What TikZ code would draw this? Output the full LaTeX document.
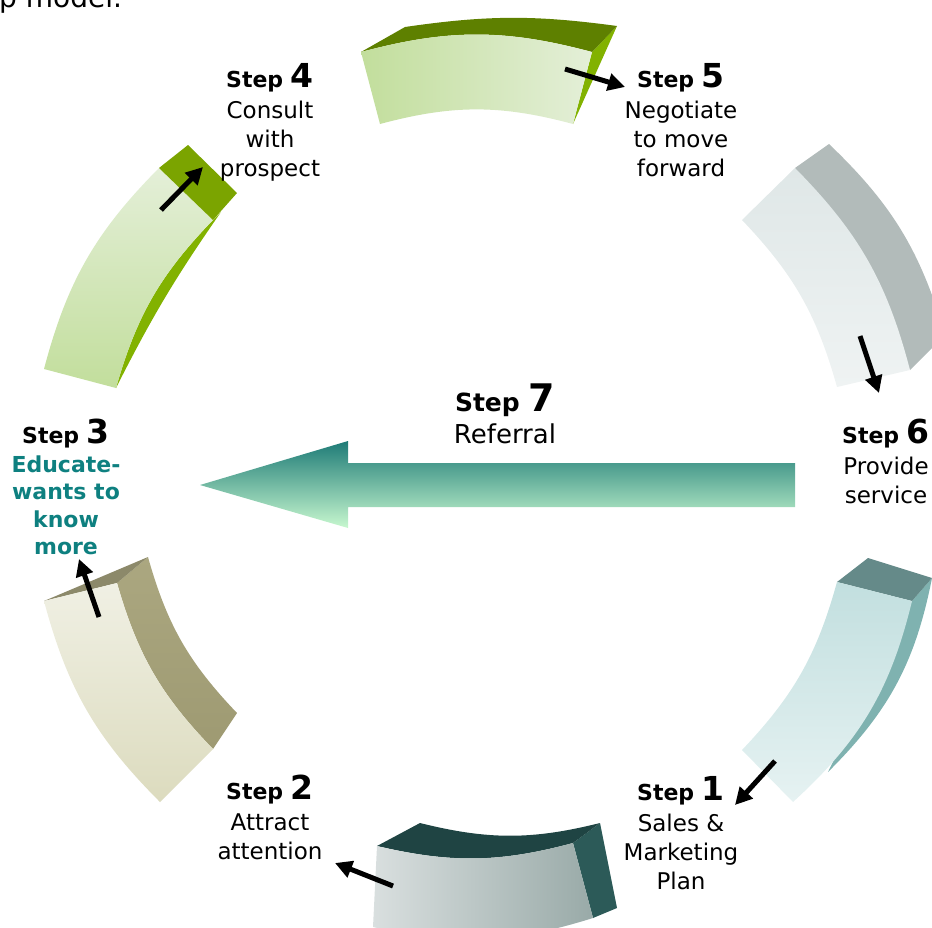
\documentclass[tikz,border=0pt]{standalone}
\usepackage{fontspec}
\setmainfont{DejaVu Sans}
\usetikzlibrary{arrows.meta}

% block colours
\definecolor{grnfrontA}{HTML}{C2DE9C}
\definecolor{grnfrontB}{HTML}{E4EFD8}
\definecolor{grntop}{HTML}{5E8000}
\definecolor{grnside}{HTML}{82B200}
\definecolor{grnsquare}{HTML}{7BA400}
\definecolor{khfrontA}{HTML}{F0F0E4}
\definecolor{khfrontB}{HTML}{DCDBBE}
\definecolor{khtop}{HTML}{8C896A}
\definecolor{khsideA}{HTML}{ABA780}
\definecolor{khsideB}{HTML}{9E9A72}
\definecolor{dkfrontA}{HTML}{D9DFDF}
\definecolor{dkfrontB}{HTML}{99AAA8}
\definecolor{dktop}{HTML}{1F4443}
\definecolor{dkside}{HTML}{2C5A58}
\definecolor{tlfrontA}{HTML}{C2DFDF}
\definecolor{tlfrontB}{HTML}{E6F2F2}
\definecolor{tltop}{HTML}{658A89}
\definecolor{tlside}{HTML}{7FB2B0}
\definecolor{gyfrontA}{HTML}{DFE7E7}
\definecolor{gyfrontB}{HTML}{EFF3F3}
\definecolor{gyside}{HTML}{B2BBBA}
\definecolor{refA}{HTML}{1E7B77}
\definecolor{refB}{HTML}{C8F8CF}
\definecolor{eduteal}{HTML}{0E8080}

\newcommand{\stepnum}[1]{{\fontsize{22}{28}\selectfont\bfseries Step }{\fontsize{33}{28}\selectfont\bfseries #1}}

\begin{document}
\begin{tikzpicture}[x=1pt, y=-1pt,
	steplabel/.style={align=center,
		anchor=north,
		inner sep=0pt,
		font=\fontsize{23}{29}\selectfont},
	segarrow/.style={line width=5pt,
		-{Triangle[length=17pt,width=17pt]}}
	]

\useasboundingbox (0,0) rectangle (932,927);

% heading line above, cut by the page
\node[anchor=base west, inner sep=0pt, font=\fontsize{28}{34}\selectfont] (head) at (-1,7) {p model.};

% every bend bows its edge away from the middle of the ring

% block 5 (top)
\fill[grnside] (617,26) -- (592,52) -- (573,124) -- cycle;
\fill[grntop] (361,52) -- (405,27) to[bend left=8] (617,26) -- (592,52) to[bend right=15] (361,52) -- cycle;
\shade[left color=grnfrontA, right color=grnfrontB] (361,52) to[bend left=15] (592,52) -- (573,124) to[bend right=15] (380,124) -- cycle;

% block 4 (upper left)
\fill[grnside] (213,220) -- (221,212) to[bend right=4] (116,388) to[bend left=14] (213,220) -- cycle;
\shade[top color=grnfrontB, bottom color=grnfrontA] (159,168) -- (213,220) to[bend right=14] (116,388) -- (44,369) to[bend left=15] (159,168) -- cycle;
\fill[grnsquare] (159,168) -- (188,145) -- (237,193) -- (213,220) -- cycle;

% block 3 (lower left)
\shade[top color=khsideA, bottom color=khsideB] (117,583) -- (148,557) to[bend right=14] (237,713) -- (213,749) to[bend left=14] (117,583) -- cycle;
\fill[khtop] (44,601) -- (148,557) -- (117,583) -- cycle;
\shade[top color=khfrontA, bottom color=khfrontB] (44,601) -- (117,583) to[bend right=14] (213,749) -- (160,802) to[bend left=15] (44,601) -- cycle;

% block 2 (bottom)
\fill[dkside] (573,843) -- (600,823) -- (617,908) -- (593,918) -- cycle;
\fill[dktop] (377,846) -- (420,823) to[bend right=14] (600,823) -- (573,843) to[bend left=14] (377,846) -- cycle;
\shade[left color=dkfrontA, right color=dkfrontB] (377,846) to[bend right=14] (573,843) -- (593,918) to[bend left=15] (373,927) -- cycle;

% block 1 (lower right)
\fill[tlside] (912,601) -- (932,578) to[bend left=17] (828,772) -- cycle;
\fill[tltop] (837,582) -- (868,558) -- (932,578) -- (912,601) -- cycle;
\shade[top color=tlfrontA, bottom color=tlfrontB] (837,582) -- (912,601) to[bend left=17] (793,802) -- (742,750) to[bend right=14] (837,582) -- cycle;

% block 6 (upper right)
\fill[gyside] (795,168) -- (829,144) to[bend left=15] (945,335) -- (910,370) -- cycle;
\shade[top color=gyfrontA, bottom color=gyfrontB] (742,220) -- (795,168) to[bend left=15] (910,370) -- (837,387) to[bend right=14] (742,220) -- cycle;

% referral arrow
\shade[top color=refA, bottom color=refB] (200,485) -- (348,441) -- (348,463) -- (795,463) -- (795,507) -- (348,507) -- (348,528) -- cycle;

% step labels
\node[steplabel] (s1) at (681,776) {\stepnum{1}\\[2pt]Sales \&\\Marketing\\Plan};
\node[steplabel] (s2) at (270,775) {\stepnum{2}\\[2pt]Attract\\attention};
\node[steplabel, font=\fontsize{22}{27.5}\selectfont\bfseries, text=eduteal] (s3) at (66,419) {\textcolor{black}{\stepnum{3}}\\[1pt]Educate-\\wants to\\know\\more};
\node[steplabel] (s4) at (270,63) {\stepnum{4}\\[2pt]Consult\\with\\prospect};
\node[steplabel] (s5) at (681,63) {\stepnum{5}\\[2pt]Negotiate\\to move\\forward};
\node[steplabel] (s6) at (886,419) {\stepnum{6}\\[2pt]Provide\\service};
\node[steplabel, font=\fontsize{26}{31}\selectfont] (s7) at (505,384) {{\fontsize{25}{31}\selectfont\bfseries Step }{\fontsize{38}{31}\selectfont\bfseries 7}\\[1pt]Referral};

% arrow ends
\coordinate (a1s) at (775,761);
\coordinate (a1e) at (735,805);
\coordinate (a2s) at (393,886);
\coordinate (a2e) at (335,863);
\coordinate (a3s) at (99,617);
\coordinate (a3e) at (79,559);
\coordinate (a4s) at (161,210);
\coordinate (a4e) at (203,167);
\coordinate (a5s) at (565,69);
\coordinate (a5e) at (625,87);
\coordinate (a6s) at (860,336);
\coordinate (a6e) at (879,393);

% arrows from each block
\draw[segarrow] (a1s) -- (a1e);
\draw[segarrow] (a2s) -- (a2e);
\draw[segarrow] (a3s) -- (a3e);
\draw[segarrow] (a4s) -- (a4e);
\draw[segarrow] (a5s) -- (a5e);
\draw[segarrow] (a6s) -- (a6e);

\end{tikzpicture}
\end{document}
